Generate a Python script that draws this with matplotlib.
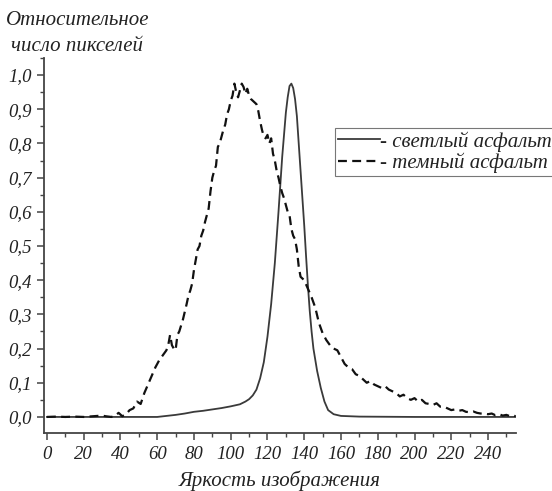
import matplotlib
matplotlib.use("Agg")
import matplotlib.pyplot as plt
from matplotlib.ticker import MultipleLocator

plt.rcParams.update({
    "font.family": ["Liberation Serif", "DejaVu Serif"],
    "font.style": "italic",
})

# ---- DATA ----
light_x = [0, 20, 40, 60, 65, 70, 75, 80, 85, 90, 95, 100, 105, 108, 110, 112, 114, 116, 118,
           120, 122, 124, 126, 128, 130, 131, 132, 133, 134, 135, 136, 137, 138, 139, 140,
           141, 142, 143, 144, 145, 147, 149, 151, 153, 156, 160, 170, 200, 255]
light_y = [0.0, 0.0, 0.0, 0.0, 0.003, 0.006, 0.01, 0.015, 0.018, 0.022, 0.026, 0.031, 0.037, 0.045,
           0.052, 0.063, 0.08, 0.113, 0.16, 0.235, 0.33, 0.45, 0.6, 0.76, 0.89, 0.935, 0.968, 0.975,
           0.962, 0.93, 0.88, 0.8, 0.72, 0.64, 0.56, 0.47, 0.385, 0.31, 0.25, 0.2, 0.135, 0.085,
           0.045, 0.02, 0.008, 0.003, 0.001, 0.0, 0.0]

dark_x = [0, 5, 10, 15, 20, 25, 30, 32, 35, 37, 39, 41, 43, 45, 47, 49, 51, 53, 55, 57, 59, 61,
          63, 65, 66, 67, 68, 69, 70, 71, 72, 74, 76, 77, 78, 79, 80, 81, 82, 83, 84, 85, 86, 87,
          88, 89, 90, 91, 92, 93, 94, 95, 96, 97, 98, 99, 100, 101, 102, 103, 104, 105, 106, 107,
          108, 109, 110, 111, 112, 113, 114, 115, 116, 117, 118, 119, 120, 121, 122, 123, 124, 125,
          126, 127, 128, 129, 130, 131, 132, 133, 134, 135, 136, 137, 138, 140, 142, 144, 146, 148,
          150, 152, 154, 156, 158, 160, 162, 164, 166, 168, 170, 172, 174, 176, 178, 180, 182, 184,
          186, 188, 190, 192, 194, 196, 198, 200, 202, 204, 206, 208, 210, 212, 214, 216, 218, 220,
          222, 224, 226, 228, 230, 232, 234, 236, 238, 240, 242, 244, 246, 248, 250, 252, 254, 255]
dark_y = [0.0, 0.001, 0.0, 0.001, 0.0, 0.002, 0.004, 0.002, 0.0, 0.003, 0.012, 0.002, 0.008, 0.02,
          0.025, 0.045, 0.038, 0.07, 0.095, 0.12, 0.145, 0.165, 0.18, 0.195, 0.21, 0.24, 0.21, 0.2,
          0.195, 0.24, 0.25, 0.285, 0.33, 0.355, 0.37, 0.39, 0.43, 0.46, 0.49, 0.5, 0.53, 0.545,
          0.57, 0.59, 0.61, 0.66, 0.7, 0.72, 0.735, 0.79, 0.8, 0.82, 0.84, 0.855, 0.885, 0.9, 0.925,
          0.94, 0.975, 0.95, 0.935, 0.955, 0.975, 0.965, 0.945, 0.96, 0.94, 0.93, 0.925, 0.92, 0.915,
          0.895, 0.865, 0.84, 0.82, 0.815, 0.825, 0.8, 0.815, 0.77, 0.75, 0.72, 0.7, 0.675, 0.655,
          0.64, 0.62, 0.6, 0.59, 0.55, 0.53, 0.52, 0.49, 0.44, 0.41, 0.4, 0.375, 0.35, 0.32, 0.275,
          0.245, 0.225, 0.21, 0.2, 0.195, 0.175, 0.155, 0.145, 0.14, 0.125, 0.12, 0.11, 0.1, 0.105,
          0.095, 0.09, 0.085, 0.09, 0.08, 0.075, 0.07, 0.06, 0.065, 0.055, 0.05, 0.055, 0.045, 0.05,
          0.04, 0.038, 0.035, 0.04, 0.03, 0.03, 0.025, 0.02, 0.022, 0.018, 0.02, 0.015, 0.014, 0.016,
          0.012, 0.01, 0.01, 0.008, 0.01, 0.005, 0.008, 0.004, 0.006, 0.002, 0.004, 0.002]

series_labels = ["- светлый асфальт", "- темный асфальт"]
x_ticks = list(range(0, 241, 20))
y_ticks = [0.0, 0.1, 0.2, 0.3, 0.4, 0.5, 0.6, 0.7, 0.8, 0.9, 1.0]
y_tick_labels = ["0,0", "0,1", "0,2", "0,3", "0,4", "0,5", "0,6", "0,7", "0,8", "0,9", "1,0"]
x_label = "Яркость изображения"
y_label = "Относительное\nчисло пикселей"

FONT = dict(family="Liberation Serif", style="italic", color="#222222")

# ---- PLOT ----
fig = plt.figure(figsize=(5.52, 4.91), dpi=100)
ax = fig.add_axes([0.0797, 0.1181, 0.855, 0.7638])

ax.plot(light_x, light_y, color="#3a3a3a", lw=1.3, label=series_labels[0])
ax.plot(dark_x, dark_y, color="#111111", lw=1.6, dashes=(4, 2.4), label=series_labels[1])

ax.set_xlim(-1.6, 255.2)
ax.set_ylim(-0.047, 1.05)
ax.set_xticks(x_ticks)
ax.set_xticklabels([str(v) for v in x_ticks], fontsize=13.5, **FONT)
ax.set_yticks(y_ticks)
ax.set_yticklabels(y_tick_labels, fontsize=13.5, **FONT)
ax.xaxis.set_minor_locator(MultipleLocator(10))
ax.yaxis.set_minor_locator(MultipleLocator(0.05))

for s in ["top", "right"]:
    ax.spines[s].set_visible(False)
for s in ["left", "bottom"]:
    ax.spines[s].set_color("#444444")
    ax.spines[s].set_linewidth(1.3)

ax.tick_params(which="major", length=5, width=1.1, color="#444444", pad=4)
ax.tick_params(which="minor", length=3, width=1.0, color="#444444")

ax.set_xlabel(x_label, fontsize=15, labelpad=6, **FONT)
fig.text(0.14, 0.932, y_label, fontsize=15, ha="center", va="center",
         linespacing=1.45, **FONT)

leg = ax.legend(loc="upper left", bbox_to_anchor=(0.6165, 0.813),
                prop=dict(family="Liberation Serif", style="italic", size=15),
                handlelength=2.0, handletextpad=0.0, borderpad=0.15, labelspacing=0.05,
                fancybox=False, framealpha=1, edgecolor="#777777", borderaxespad=0)
leg.get_frame().set_linewidth(0.8)
for t in leg.get_texts():
    t.set_color("#222222")

fig.savefig("out.png", dpi=100)
